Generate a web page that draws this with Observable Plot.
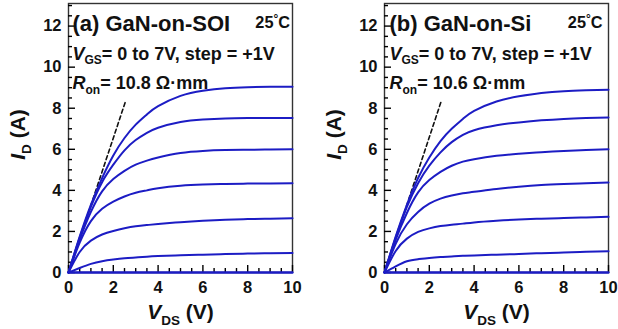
<!DOCTYPE html>
<html><head><meta charset="utf-8">
<script src="https://cdn.jsdelivr.net/npm/d3@7"></script>
<script src="https://cdn.jsdelivr.net/npm/@observablehq/plot@0.6"></script>
<style>
html,body{margin:0;padding:0;background:#fff;}
#wrap{position:relative;width:618px;height:329px;overflow:hidden;}
#wrap svg{position:absolute;top:0;}
</style></head><body><div id="wrap"></div>
<script>
// V_DS sample points (V)
const vds = [0, 0.5, 1, 1.5, 2, 2.5, 3, 3.5, 4, 5, 6, 7, 8, 9, 10];
const vgsSteps = [0, 1, 2, 3, 4, 5, 6, 7];

// (a) GaN-on-SOI, I_D (A) per V_GS
const soi0 = [0,0,0,0,0,0,0,0,0,0,0,0,0,0,0];
const soi1 = [0,0,0,0,0,0,0,0,0,0,0,0,0,0,0];
const soi2 = [0,0.22,0.42,0.55,0.63,0.69,0.73,0.77,0.80,0.84,0.87,0.90,0.92,0.94,0.95];
const soi3 = [0,1.0,1.55,1.85,2.02,2.15,2.25,2.31,2.36,2.45,2.52,2.57,2.60,2.62,2.64];
const soi4 = [0,1.45,2.5,3.1,3.45,3.7,3.88,4.0,4.1,4.22,4.28,4.31,4.33,4.34,4.35];
const soi5 = [0,1.6,2.95,3.95,4.55,4.95,5.25,5.45,5.6,5.82,5.92,5.96,5.98,5.99,6.0];
const soi6 = [0,1.7,3.2,4.4,5.25,5.95,6.45,6.8,7.05,7.33,7.45,7.5,7.52,7.53,7.53];
const soi7 = [0,1.75,3.3,4.6,5.7,6.55,7.2,7.7,8.1,8.6,8.85,8.97,9.02,9.04,9.04];

// (b) GaN-on-Si, I_D (A) per V_GS
const si0 = [0,0,0,0,0,0,0,0,0,0,0,0,0,0,0];
const si1 = [0,0,0,0,0,0,0,0,0,0,0,0,0,0,0];
const si2 = [0,0.3,0.55,0.65,0.71,0.75,0.78,0.81,0.83,0.87,0.9,0.94,0.97,1.01,1.04];
const si3 = [0,1.05,1.65,1.98,2.15,2.26,2.33,2.38,2.44,2.52,2.58,2.62,2.65,2.68,2.71];
const si4 = [0,1.4,2.35,2.95,3.35,3.6,3.75,3.86,3.93,4.07,4.18,4.26,4.31,4.35,4.38];
const si5 = [0,1.6,2.9,3.9,4.5,4.9,5.2,5.4,5.52,5.68,5.78,5.86,5.92,5.96,6.0];
const si6 = [0,1.7,3.2,4.35,5.2,5.85,6.35,6.7,6.93,7.17,7.31,7.41,7.48,7.52,7.55];
const si7 = [0,1.75,3.3,4.6,5.6,6.4,7.0,7.48,7.87,8.33,8.58,8.74,8.83,8.87,8.9];

// R_on guide lines (dashed)
const ronV = [0, 2.55];
const ronSoi = [0, 8.35];
const ronSi = [0, 8.4];

// ticks
const xMajor = [0, 2, 4, 6, 8, 10];
const xMinor = [0.5, 1, 1.5, 2.5, 3, 3.5, 4.5, 5, 5.5, 6.5, 7, 7.5, 8.5, 9, 9.5];
const yMajor = [0, 2, 4, 6, 8, 10, 12];
const yMinor = [0.5, 1, 1.5, 2.5, 3, 3.5, 4.5, 5, 5.5, 6.5, 7, 7.5, 8.5, 9, 9.5, 10.5, 11, 11.5, 12.5, 13];

const FONT = '"Liberation Sans", Arial, Helvetica, sans-serif';
const BLUE = "#1c1cc4";
const INK = "#111";
const X_DOMAIN = [0, 10];
const Y_DOMAIN = [0, 13.1];

const ctx = document.createElement("canvas").getContext("2d");
function tw(t, size, italic) {
  ctx.font = `${italic ? "italic " : ""}bold ${size}px ${FONT}`;
  return ctx.measureText(t).width;
}
// segs: [text, size, italic, baselineShift]
function rich(segs, x, y, ml, mt, anchor = "start", rotate = 0) {
  const widths = segs.map(s => tw(s[0], s[1], s[2]));
  const total = d3.sum(widths);
  let acc = anchor === "middle" ? -total / 2 : anchor === "end" ? -total : 0;
  return segs.map((s, i) => {
    const along = acc, across = s[3] || 0;
    acc += widths[i];
    const px = rotate === -90 ? x + across : x + along;
    const py = rotate === -90 ? y - along : y + across;
    return Plot.text([s[0]], {
      text: d => d, frameAnchor: "top-left", dx: px - ml, dy: py - mt,
      textAnchor: "start", lineAnchor: "bottom", rotate,
      fontSize: s[1], fontWeight: "bold", fontStyle: s[2] ? "italic" : "normal",
      fontFamily: FONT, fill: INK
    });
  });
}

function panel(opt) {
  const W = 309, H = 329, mt = 3, mb = 57, ml = opt.ml, mr = opt.mr;
  const fw = W - ml - mr, fh = H - mt - mb;
  // tick lengths converted from pixels into data units
  const yPer = (Y_DOMAIN[1] - Y_DOMAIN[0]) / fh;
  const xPer = (X_DOMAIN[1] - X_DOMAIN[0]) / fw;
  const rows = opt.curves.flatMap((arr, k) => arr.map((v, i) => ({vds: vds[i], id: v, vgs: vgsSteps[k]})));
  const ron = ronV.map((v, i) => ({vds: v, id: opt.ron[i]}));
  const tickLbl = {fontSize: 16.5, fontWeight: "bold", fontFamily: FONT, fill: INK};
  const tkStyle = {stroke: "#000", strokeWidth: 1.4};
  return Plot.plot({
    width: W, height: H, marginLeft: ml, marginRight: mr, marginTop: mt, marginBottom: mb,
    x: {domain: X_DOMAIN, label: null},
    y: {domain: Y_DOMAIN, label: null},
    style: {fontFamily: FONT, color: INK},
    marks: [
      Plot.frame({stroke: "#333", strokeWidth: 1.4}),
      Plot.axisX({ticks: xMajor, tickSize: 0, tickPadding: 9, tickFormat: d => String(d), ...tickLbl}),
      Plot.axisY({ticks: yMajor, tickSize: 0, tickPadding: 7, tickFormat: d => String(d), ...tickLbl}),
      // inward minor and major ticks
      Plot.ruleX(xMinor, {x: d => d, y1: Y_DOMAIN[0], y2: Y_DOMAIN[0] + 4 * yPer, ...tkStyle}),
      Plot.ruleX(xMajor, {x: d => d, y1: Y_DOMAIN[0], y2: Y_DOMAIN[0] + 7 * yPer, ...tkStyle}),
      Plot.ruleY(yMinor, {y: d => d, x1: X_DOMAIN[0], x2: X_DOMAIN[0] + 4 * xPer, ...tkStyle}),
      Plot.ruleY(yMajor, {y: d => d, x1: X_DOMAIN[0], x2: X_DOMAIN[0] + 7 * xPer, ...tkStyle}),
      Plot.line(ron, {x: "vds", y: "id", stroke: INK, strokeWidth: 1.6, strokeDasharray: "4,3"}),
      Plot.line(rows, {x: "vds", y: "id", z: "vgs", stroke: BLUE, strokeWidth: 2, curve: "natural"}),
      ...rich([[opt.title, 22, false]], opt.tx, 30.5, ml, mt),
      ...rich([["25", 16.3, false], ["°", 12, false, -5], ["C", 16.3, false]], opt.tempX, 27, ml, mt, "end"),
      ...rich([["V", 18, true], ["GS", 12, false, 4], ["= 0 to 7V, step = +1V", 18, false]], opt.tx, 59, ml, mt),
      ...rich([["R", 18, true], ["on", 12, false, 5], ["= " + opt.ronText + " \u03A9\u00B7mm", 18, false]], opt.tx, 88.5, ml, mt),
      ...rich([["V", 21, true], ["DS", 13.5, false, 6], [" (V)", 21, false]], ml + 112, 318.5, ml, mt, "middle"),
      ...rich([["I", 21, true], ["D", 13.5, false, 6], [" (A)", 21, false]], opt.ylx, 134, ml, mt, "middle", -90)
    ]
  });
}

const left = panel({ml: 68, mr: 17, curves: [soi0, soi1, soi2, soi3, soi4, soi5, soi6, soi7], ron: ronSoi,
  title: "(a) GaN-on-SOI", ronText: "10.8", tx: 72, tempX: 289.5, ylx: 24});
const right = panel({ml: 75, mr: 10, curves: [si0, si1, si2, si3, si4, si5, si6, si7], ron: ronSi,
  title: "(b) GaN-on-Si", ronText: "10.6", tx: 80, tempX: 293, ylx: 31});
left.style.left = "0px";
right.style.left = "309px";
left.style.background = "transparent";
right.style.background = "transparent";
const wrap = document.getElementById("wrap");
wrap.appendChild(left);
wrap.appendChild(right);
</script></body></html>
